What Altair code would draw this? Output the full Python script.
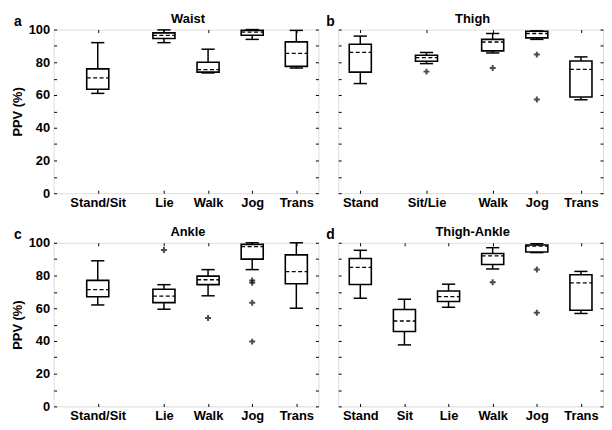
import altair as alt
import pandas as pd

FONT = "Liberation Sans"

# ---- Panel a: Waist ----
a_cats = ["Stand/Sit", "Lie", "Walk", "Jog", "Trans"]
a_pos = [1.5, 3, 4, 5, 6]
a_lo = [61, 92, 73.5, 94, 76.5]
a_q1 = [63.5, 94.5, 74, 96.5, 77.5]
a_med = [70.5, 96.5, 75.5, 98.5, 85.5]
a_q3 = [76, 98, 80, 99.5, 92.5]
a_hi = [92, 99.8, 88, 100, 99.5]
a_out_pos = []
a_out_val = []

# ---- Panel b: Thigh ----
b_cats = ["Stand", "Sit/Lie", "Walk", "Jog", "Trans"]
b_pos = [1, 2.5, 4, 5, 6]
b_lo = [67, 79.2, 85.7, 94, 57.1]
b_q1 = [74, 80.6, 87, 94.9, 58.8]
b_med = [86, 82.9, 92.4, 97.6, 75.7]
b_q3 = [91, 84.3, 94, 99, 80.8]
b_hi = [96, 86, 97.6, 99.2, 83.3]
b_out_pos = [2.5, 4, 5, 5]
b_out_val = [74.3, 76.5, 84.7, 57.3]

# ---- Panel c: Ankle ----
c_cats = ["Stand/Sit", "Lie", "Walk", "Jog", "Trans"]
c_pos = [1.5, 3, 4, 5, 6]
c_lo = [62, 59.4, 67.6, 83.6, 60]
c_q1 = [67, 63.4, 74.4, 90, 75]
c_med = [71.4, 67.4, 77.4, 97.6, 82.4]
c_q3 = [77, 71.6, 79.6, 99, 92.6]
c_hi = [89, 74.4, 83.6, 100, 100]
c_out_pos = [3, 4, 5, 5, 5, 5]
c_out_val = [95.6, 54, 77, 75.6, 63.4, 39.6]

# ---- Panel d: Thigh-Ankle ----
d_cats = ["Stand", "Sit", "Lie", "Walk", "Jog", "Trans"]
d_pos = [1, 2, 3, 4, 5, 6]
d_lo = [66.1, 37.6, 60.6, 84, 94, 56.8]
d_q1 = [74.5, 45.8, 64.1, 86.7, 94.4, 58.8]
d_med = [85, 52.2, 67.1, 92, 98, 75.5]
d_q3 = [90.4, 59.2, 70.5, 93.4, 98.6, 80.5]
d_hi = [95.4, 65.5, 74.7, 97, 99.4, 82.5]
d_out_pos = [4, 5, 5]
d_out_val = [75.9, 83.7, 57.2]

Y_TICKS = list(range(0, 101, 10))
HALF_BOX = 0.25
HALF_CAP = 0.15
PLUS = "M-1,0L1,0M0,-1L0,1"


def panel(letter, title, cats, pos, lo, q1, med, q3, hi, out_pos, out_val,
          show_y, w, h):
    stats = pd.DataFrame(dict(cat=cats, pos=pos, lo=lo, q1=q1, med=med, q3=q3, hi=hi))
    outs = pd.DataFrame(dict(pos=out_pos, val=out_val))
    xs = alt.Scale(domain=[0.5, 6.5], nice=False, zero=False)
    ys = alt.Scale(domain=[0, 100], nice=False)
    lmap = "{" + ",".join(f"'{p:g}':'{c}'" for p, c in zip(pos, cats)) + "}"

    x_bottom = alt.Axis(values=pos, labelExpr=f"{lmap}[''+datum.value]", title=None,
                        orient="bottom", domain=False, grid=False, tickSize=3,
                        offset=-3, tickColor="black", tickWidth=1,
                        labelPadding=3, labelFontSize=13, labelFontWeight="bold",
                        labelFont=FONT, labelColor="black")
    y_left = alt.Axis(values=Y_TICKS, orient="left", domain=False, grid=False,
                      tickSize=3, offset=-3, tickColor="black", tickWidth=1,
                      labels=show_y,
                      labelExpr="datum.value % 20 == 0 ? datum.label : ''",
                      labelPadding=4, labelFontSize=13, labelFontWeight="bold",
                      labelFont=FONT, labelColor="black",
                      title="PPV (%)" if show_y else None,
                      titleFontSize=13, titleFontWeight="bold", titleFont=FONT,
                      titleColor="black", titlePadding=4)
    x_top = alt.Axis(values=pos, orient="top", labels=False, title=None, domain=False,
                     grid=False, tickSize=3, offset=-3, tickColor="black", tickWidth=1)
    y_right = alt.Axis(values=Y_TICKS, orient="right", labels=False, title=None,
                       domain=False, grid=False, tickSize=3, offset=-3,
                       tickColor="black", tickWidth=1)

    base = alt.Chart(stats).transform_calculate(
        left=f"datum.pos - {HALF_BOX}", right=f"datum.pos + {HALF_BOX}",
        cl=f"datum.pos - {HALF_CAP}", cr=f"datum.pos + {HALF_CAP}")

    whisk = base.mark_rule(color="black", strokeWidth=1.5).encode(
        x=alt.X("pos:Q", scale=xs, axis=x_bottom),
        y=alt.Y("lo:Q", scale=ys, axis=y_left),
        y2="hi:Q")
    caps = base.transform_fold(["lo", "hi"], as_=["k", "v"]).mark_rule(
        color="black", strokeWidth=1.5).encode(
        x=alt.X("cl:Q", scale=xs, axis=x_top),
        x2="cr:Q",
        y=alt.Y("v:Q", scale=ys, axis=y_right))
    box = base.mark_rect(fill="white", stroke="black", strokeWidth=1.6).encode(
        x=alt.X("left:Q", scale=xs, axis=None), x2="right:Q",
        y=alt.Y("q1:Q", scale=ys, axis=None), y2="q3:Q")
    med_l = base.mark_rule(color="black", strokeWidth=1.3, strokeDash=[4, 2.5]).encode(
        x=alt.X("left:Q", scale=xs, axis=None), x2="right:Q",
        y=alt.Y("med:Q", scale=ys, axis=None))
    layers = [whisk, caps, box, med_l]
    if len(outs):
        pts = alt.Chart(outs).mark_point(shape=PLUS, size=36, color="black",
                                         strokeWidth=2, filled=False).encode(
            x=alt.X("pos:Q", scale=xs, axis=None),
            y=alt.Y("val:Q", scale=ys, axis=None))
        layers.append(pts)
    heads = pd.DataFrame({"t": [letter, title]})
    lab = alt.Chart(heads).transform_filter(alt.datum.t == letter).mark_text(
        font=FONT, fontSize=14, fontWeight="bold", align="left", baseline="alphabetic",
        color="black").encode(text="t:N", x=alt.value(-40 if show_y else -12),
                              y=alt.value(-4))
    ttl = alt.Chart(heads).transform_filter(alt.datum.t == title).mark_text(
        font=FONT, fontSize=13, fontWeight="bold", align="center", baseline="alphabetic",
        color="black").encode(text="t:N", x=alt.value(w / 2 + 2), y=alt.value(-7))
    layers += [lab, ttl]
    return alt.layer(*layers).resolve_axis(x="independent", y="independent").properties(
        width=w, height=h)


W = 267
H = 165
pa = panel("a", "Waist", a_cats, a_pos, a_lo, a_q1, a_med, a_q3, a_hi,
           a_out_pos, a_out_val, True, W, H)
pb = panel("b", "Thigh", b_cats, b_pos, b_lo, b_q1, b_med, b_q3, b_hi,
           b_out_pos, b_out_val, False, W, H)
pc = panel("c", "Ankle", c_cats, c_pos, c_lo, c_q1, c_med, c_q3, c_hi,
           c_out_pos, c_out_val, True, W, H)
pd_ = panel("d", "Thigh-Ankle", d_cats, d_pos, d_lo, d_q1, d_med, d_q3, d_hi,
            d_out_pos, d_out_val, False, W, H)

chart = alt.concat(
    pa, pb, pc, pd_, columns=2,
    spacing=alt.RowColnumber(row=50, column=20), bounds="flush",
).properties(padding={"left": 2, "top": 2, "right": 0, "bottom": 0}).configure_view(
    stroke="black", strokeWidth=1.3
).configure(background="white")

chart.save("out.html", embed_options={"renderer": "svg", "actions": False})
